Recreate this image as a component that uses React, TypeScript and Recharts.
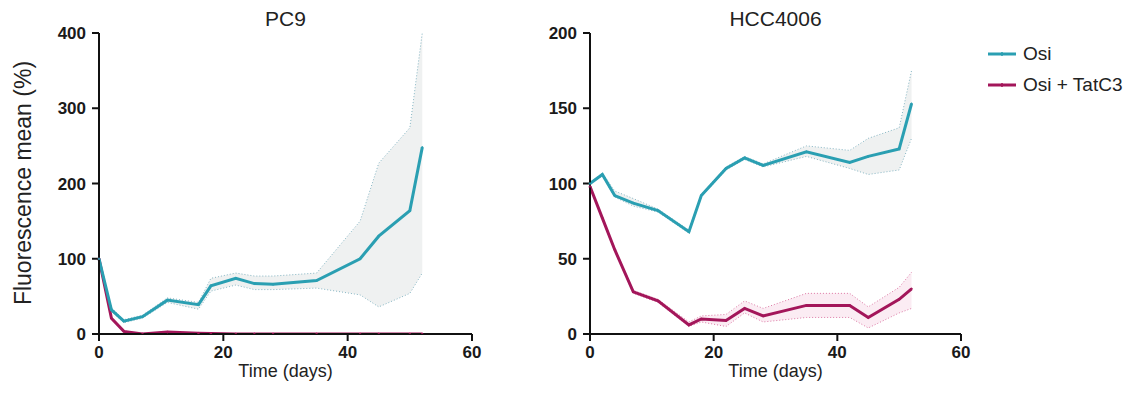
import { ComposedChart, Line, Area, XAxis, YAxis } from "recharts";

// sampling days (shared by both cell lines)
const days = [0, 2, 4, 7, 11, 16, 18, 22, 25, 28, 35, 42, 45, 50, 52];

// PC9
const pc9Osi = [100, 32, 17, 23, 45, 39, 64, 74, 67, 66, 71, 100, 130, 164, 248];
const pc9OsiLo = [100, 30, 15, 21, 42, 33, 57, 65, 59, 59, 61, 52, 36, 54, 81];
const pc9OsiHi = [100, 35, 19, 25, 48, 42, 74, 81, 77, 77, 81, 150, 227, 274, 400];
const pc9Tat = [100, 21, 3.5, 0, 2.5, 1, 0.5, 0, 0, 0, 0, 0, 0, 0, 0];
const pc9TatLo = [100, 20, 3, 0, 2, 0.5, 0, 0, 0, 0, 0, 0, 0, 0, 0];
const pc9TatHi = [100, 22, 4, 0.5, 3, 1.5, 1, 0.5, 0.5, 0.5, 0.5, 0.5, 0.5, 0.5, 0.5];

// HCC4006
const hccOsi = [100, 106, 92, 87, 82, 68, 92, 110, 117, 112, 121, 114, 118, 123, 153];
const hccOsiLo = [100, 105, 91, 85, 81, 67, 91, 109, 116, 111, 118, 110, 106, 109, 130];
const hccOsiHi = [100, 107, 95, 90, 83, 69, 93, 111, 118, 113, 125, 122, 130, 137, 175];
const hccTat = [98, 77, 56, 28, 22, 6, 10, 9, 17, 12, 19, 19, 11, 23, 30];
const hccTatLo = [98, 76, 55, 27, 21, 5, 8, 5, 14, 8, 11, 11, 4, 14, 17];
const hccTatHi = [98, 78, 57, 29, 23, 8, 12, 13, 22, 17, 27, 27, 18, 31, 41];

const xTicks = [0, 20, 40, 60];
const pc9YTicks = [0, 100, 200, 300, 400];
const hccYTicks = [0, 50, 100, 150, 200];

const seriesNames = ["Osi", "Osi + TatC3"];

const TEAL = "#2a9fb2";
const CRIMSON = "#a3165a";
const FONT = '"Liberation Sans", Arial, sans-serif';

function buildRows(
  osi: number[], osiLo: number[], osiHi: number[],
  tat: number[], tatLo: number[], tatHi: number[]
) {
  return days.map((day, i) => ({
    day,
    osi: osi[i],
    osiBand: [osiLo[i], osiHi[i]],
    tat: tat[i],
    tatBand: [tatLo[i], tatHi[i]],
  }));
}

const pc9Rows = buildRows(pc9Osi, pc9OsiLo, pc9OsiHi, pc9Tat, pc9TatLo, pc9TatHi);
const hccRows = buildRows(hccOsi, hccOsiLo, hccOsiHi, hccTat, hccTatLo, hccTatHi);

interface PanelProps {
  title: string;
  rows: ReturnType<typeof buildRows>;
  yTicks: number[];
  left: number;
  marginLeft: number;
  marginRight: number;
}

const W = 490;
const H = 394;
const Y_AXIS_W = 40;

function Panel({ title, rows, yTicks, left, marginLeft, marginRight }: PanelProps) {
  const plotLeft = marginLeft + Y_AXIS_W;
  const plotW = W - plotLeft - marginRight;
  const tickStyle = { fontSize: 17, fontWeight: 700, fill: "#1a1a1a", fontFamily: FONT };
  return (
    <div style={{ position: "absolute", left, top: 0, width: W, height: H }}>
      <div
        style={{
          position: "absolute",
          left: plotLeft,
          width: plotW,
          top: 7,
          textAlign: "center",
          fontSize: 21,
          fontFamily: FONT,
          color: "#222",
        }}
      >
        {title}
      </div>
      <ComposedChart
        width={W}
        height={H}
        data={rows}
        margin={{ top: 33, right: marginRight, left: marginLeft, bottom: 30 }}
      >
        <XAxis
          dataKey="day"
          type="number"
          domain={[0, 60]}
          ticks={xTicks}
          height={30}
          stroke="#111"
          strokeWidth={2}
          tickSize={7}
          tickMargin={5}
          tick={tickStyle}
          label={{
            value: "Time (days)",
            position: "bottom",
            offset: 0,
            style: { fontSize: 18, fill: "#222", fontFamily: FONT },
          }}
        />
        <YAxis
          type="number"
          domain={[0, yTicks[yTicks.length - 1]]}
          ticks={yTicks}
          allowDataOverflow
          width={Y_AXIS_W}
          stroke="#111"
          strokeWidth={2}
          tickSize={7}
          tickMargin={6}
          tick={tickStyle}
        />
        <Area
          dataKey="osiBand"
          fill="#eceeee"
          fillOpacity={0.85}
          stroke="#86b6c4"
          strokeWidth={1}
          strokeDasharray="1 2"
          isAnimationActive={false}
        />
        <Area
          dataKey="tatBand"
          fill="#f9dfeb"
          fillOpacity={0.6}
          stroke="#dd7aa6"
          strokeWidth={1}
          strokeDasharray="1 2"
          isAnimationActive={false}
        />
        <Line
          dataKey="tat"
          stroke={CRIMSON}
          strokeWidth={3}
          dot={{ r: 0.8, fill: CRIMSON, stroke: CRIMSON, strokeWidth: 1 }}
          isAnimationActive={false}
        />
        <Line
          dataKey="osi"
          stroke={TEAL}
          strokeWidth={3}
          dot={{ r: 0.8, fill: TEAL, stroke: TEAL, strokeWidth: 1 }}
          isAnimationActive={false}
        />
      </ComposedChart>
    </div>
  );
}

function LegendRow({ color, label, top }: { color: string; label: string; top: number }) {
  return (
    <div style={{ position: "absolute", left: 987, top, height: 24, display: "flex", alignItems: "center" }}>
      <svg width={30} height={10}>
        <line x1={1} y1={5} x2={29} y2={5} stroke={color} strokeWidth={3} />
        <line x1={15} y1={3} x2={15} y2={7} stroke={color} strokeWidth={1.5} />
      </svg>
      <span style={{ marginLeft: 6, fontSize: 19, fontFamily: FONT, color: "#222" }}>{label}</span>
    </div>
  );
}

export default function App() {
  return (
    <div style={{ position: "absolute", left: 0, top: 0, width: 1132, height: 394, background: "#fff" }}>
      <div
        style={{
          position: "absolute",
          left: 23,
          top: 183,
          transform: "translate(-50%, -50%) rotate(-90deg)",
          whiteSpace: "nowrap",
          fontSize: 23,
          fontFamily: FONT,
          color: "#222",
        }}
      >
        Fluorescence mean (%)
      </div>
      <Panel title="PC9" rows={pc9Rows} yTicks={pc9YTicks} left={0} marginLeft={59} marginRight={18} />
      <Panel title="HCC4006" rows={hccRows} yTicks={hccYTicks} left={490} marginLeft={60} marginRight={19} />
      <LegendRow color={TEAL} label={seriesNames[0]} top={42} />
      <LegendRow color={CRIMSON} label={seriesNames[1]} top={73} />
    </div>
  );
}
